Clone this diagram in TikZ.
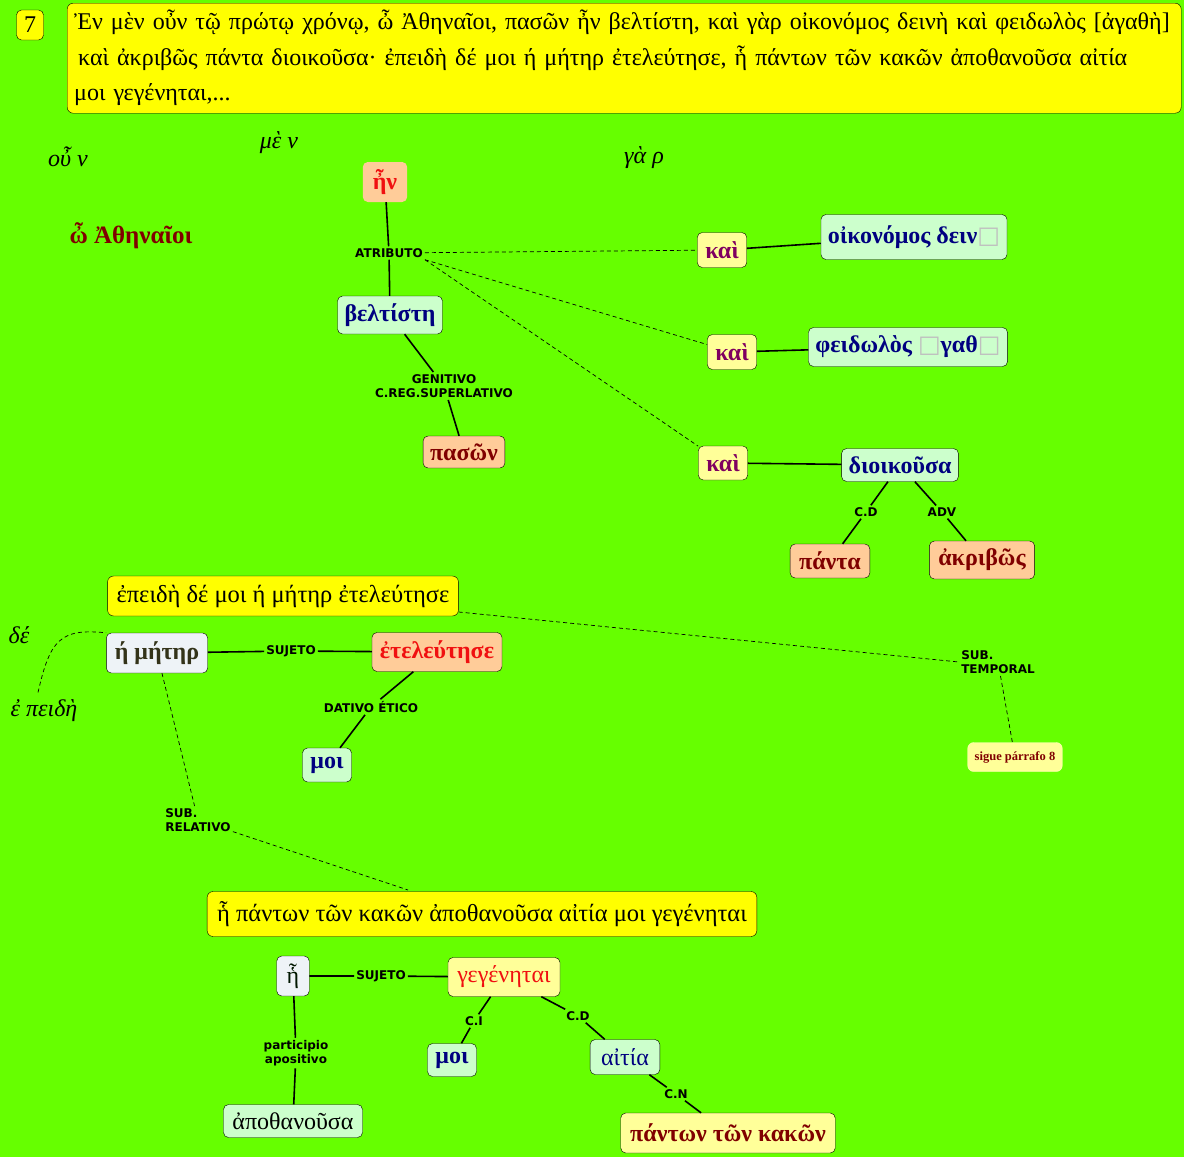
\documentclass[tikz,border=0pt]{standalone}
\usepackage{fontspec}
\setmainfont{Liberation Serif}
\newfontfamily\etiqfont{DejaVu Sans}
\definecolor{fondo}{HTML}{66FF00}
\definecolor{amarillo}{HTML}{FFFF00}
\definecolor{crema}{HTML}{FFFF99}
\definecolor{melocoton}{HTML}{FFCC99}
\definecolor{verdeclaro}{HTML}{CCFFCC}
\definecolor{gris}{HTML}{EEF3F7}
\definecolor{marino}{HTML}{000080}
\definecolor{granate}{HTML}{800000}
\definecolor{morado}{HTML}{800060}
\definecolor{rojo}{HTML}{F01010}
\definecolor{oliva}{HTML}{333319}
\newcommand{\hueco}{{\etiqfont\color{black!25}□}}
\begin{document}
\begin{tikzpicture}[x=1pt,y=-1pt,
    caja/.style ={draw, rounded corners=5pt, inner xsep=7pt, minimum height=36pt,
                  font=\fontsize{24}{24}\selectfont\bfseries},
    nucleo/.style ={caja, fill=melocoton, text=rojo},
    complemento/.style ={caja, fill=verdeclaro, text=marino},
    termino/.style ={caja, fill=melocoton, text=granate},
    conjuncion/.style ={caja, fill=crema, text=morado, inner xsep=8pt},
    sujeto/.style ={caja, fill=gris, text=oliva},
    oracion/.style ={draw, rounded corners=6pt, fill=amarillo, inner xsep=9pt, minimum height=40pt,
                     font=\fontsize{24.5}{24.5}\selectfont},
    glosa/.style ={font=\fontsize{24}{24}\selectfont\itshape},
    rotulo/.style ={font=\etiqfont\fontsize{12}{14.5}\selectfont\bfseries, inner sep=2pt, align=left},
    enlace/.style ={line width=1.6pt},
    relacion/.style ={line width=0.7pt, dashed, dash pattern=on 4pt off 3pt}]
  \fill[fondo] (0,0) rectangle (1184,1157);
  \useasboundingbox (0,0) rectangle (1184,1157);
  % texto
  \node[draw, rounded corners=5pt, fill=amarillo, minimum width=27pt, minimum height=30pt,
        font=\fontsize{24}{24}\selectfont] (num) at (30,25) {7};
  \node[draw, rounded corners=6pt, fill=amarillo, anchor=north west, minimum width=1113pt,
        minimum height=110pt, text width=1100pt, inner xsep=7pt, inner ysep=3pt, align=left,
        font=\fontsize{24}{35.5}\selectfont] (texto) at (67,3)
    {Ἐν μὲν οὖν τῷ πρώτῳ χρόνῳ, ὦ Ἀθηναῖοι, πασῶν ἦν βελτίστη, καὶ γὰρ οἰκονόμος δεινὴ καὶ φειδωλὸς [ἀγαθὴ]\\
     \hspace{4pt}καὶ ἀκριβῶς πάντα διοικοῦσα· ἐπειδὴ δέ μοι ή μήτηρ ἐτελεύτησε, ἧ πάντων τῶν κακῶν ἀποθανοῦσα αἰτία\\
     μοι γεγένηται,...};
  \node[glosa] (oun) at (68,157) {οὖ ν};
  \node[glosa] (men) at (279,143) {μὲ ν};
  \node[glosa] (gar) at (644,158) {γὰ ρ};
  \node[font=\fontsize{25}{25}\selectfont\bfseries, text=granate] (atenienses) at (131,236) {ὦ Ἀθηναῖοι};
  % oracion principal
  \node[nucleo, draw=none, minimum height=40pt, inner xsep=10pt] (en) at (385,182) {ἦν};
  \node[rotulo] (atributo) at (389,253) {ATRIBUTO};
  \node[complemento, minimum height=38pt] (beltiste) at (390,315) {βελτίστη};
  \node[rotulo, align=center] (genitivo) at (444,386) {GENITIVO\\C.REG.SUPERLATIVO};
  \node[termino, minimum height=32pt] (pason) at (464,452) {πασῶν};
  \node[conjuncion, minimum height=35pt] (kai1) at (722,250) {καὶ};
  \node[conjuncion, minimum height=35pt] (kai2) at (732,352) {καὶ};
  \node[conjuncion, minimum height=34pt] (kai3) at (723,463) {καὶ};
  \node[complemento, minimum height=45pt] (oikonomos) at (914,237) {οἰκονόμος δειν\hueco};
  \node[complemento, minimum height=39pt] (feidolos) at (908,347) {φειδωλὸς \hueco γαθ\hueco};
  \node[complemento, minimum height=33pt] (dioikousa) at (900,465) {διοικοῦσα};
  \node[rotulo] (cd1) at (866,512) {C.D};
  \node[rotulo] (adv) at (942,512) {ADV};
  \node[termino, minimum height=34pt, inner xsep=9pt] (panta) at (830,561) {πάντα};
  \node[termino, minimum height=38pt, inner xsep=9pt] (akribos) at (982,560) {ἀκριβῶς};
  \draw[enlace] (en) -- (atributo) -- (beltiste);
  \draw[enlace] (beltiste) -- (genitivo) -- (pason);
  \draw[relacion] (atributo) -- (kai1);
  \draw[relacion] (atributo.south east) -- (kai2);
  \draw[relacion] (atributo.south east) -- (kai3);
  \draw[enlace] (kai1) -- (oikonomos);
  \draw[enlace] (kai2) -- (feidolos);
  \draw[enlace] (kai3) -- (dioikousa);
  \draw[enlace] (dioikousa) -- (cd1) -- (panta);
  \draw[enlace] (dioikousa) -- (adv) -- (akribos);
  % subordinada temporal
  \node[oracion] (temporal) at (283,596) {ἐπειδὴ δέ μοι ή μήτηρ ἐτελεύτησε};
  \node[rotulo] (subtemp) at (998,662) {SUB.\\TEMPORAL};
  \node[draw=crema!60, fill=crema, rounded corners=6pt, minimum height=29pt, inner xsep=7pt,
        text=granate, font=\fontsize{12.5}{12.5}\selectfont\bfseries] (sigue) at (1015,757) {sigue párrafo 8};
  \node[glosa] (de) at (19,635) {δέ};
  \node[glosa] (epeide) at (44,711) {ἐ πειδὴ};
  \node[sujeto, minimum height=40pt, inner xsep=8.5pt] (meter) at (157,653) {ή μήτηρ};
  \node[rotulo] (suj1) at (291,651) {SUJETO};
  \node[nucleo, minimum height=39pt, inner xsep=8pt] (eteleutese) at (437,652) {ἐτελεύτησε};
  \node[rotulo] (dativo) at (371,707) {DATIVO ÉTICO};
  \node[complemento, minimum height=34pt, inner xsep=8pt] (moi1) at (327,765) {μοι};
  \node[rotulo] (subrel) at (198,820) {SUB.\\RELATIVO};
  \draw[relacion] (temporal.east) ++(0,16) -- (subtemp.west);
  \draw[relacion] (subtemp) -- (sigue);
  \draw[relacion] (epeide.north) ++(-6,-4) .. controls (50,640) and (60,628) .. (meter.north west);
  \draw[enlace] (meter) -- (suj1) -- (eteleutese);
  \draw[enlace] (eteleutese) -- (dativo) -- (moi1);
  \draw[relacion] (meter) -- (subrel);
  \draw[relacion] (subrel) -- (408,890);
  % subordinada relativa
  \node[oracion, minimum height=45pt, inner xsep=10pt] (relativa) at (482,914) {ἧ πάντων τῶν κακῶν ἀποθανοῦσα αἰτία μοι γεγένηται};
  \node[sujeto, font=\fontsize{24}{24}\selectfont, text=black!70!green!30!black, minimum height=40pt, inner xsep=10pt] (he) at (293,976) {ἧ};
  \node[rotulo] (suj2) at (381,976) {SUJETO};
  \node[caja, fill=crema, text=rojo, font=\fontsize{24}{24}\selectfont, minimum height=39pt, inner xsep=9.5pt] (gegenetai) at (504,977) {γεγένηται};
  \node[rotulo, align=center] (participio) at (296,1053) {participio\\apositivo};
  \node[complemento, text=black, font=\fontsize{24}{24}\selectfont, minimum height=33pt, inner xsep=9pt] (apothanousa) at (293,1121) {ἀποθανοῦσα};
  \node[rotulo] (ci) at (474,1021) {C.I};
  \node[rotulo] (cd2) at (578,1016) {C.D};
  \node[complemento, minimum height=33pt, inner xsep=8pt] (moi2) at (452,1060) {μοι};
  \node[complemento, font=\fontsize{24}{24}\selectfont, minimum height=35pt, inner xsep=11pt] (aitia) at (625,1057) {αἰτία};
  \node[rotulo] (cn) at (676,1094) {C.N};
  \node[caja, fill=crema, text=granate, minimum height=40pt, inner xsep=9.5pt] (kakon) at (728,1133) {πάντων τῶν κακῶν};
  \draw[enlace] (he) -- (suj2) -- (gegenetai);
  \draw[enlace] (he) -- (participio) -- (apothanousa);
  \draw[enlace] (gegenetai) -- (ci) -- (moi2);
  \draw[enlace] (gegenetai) -- (cd2) -- (aitia);
  \draw[enlace] (aitia) -- (cn) -- (kakon);
\end{tikzpicture}
\end{document}
